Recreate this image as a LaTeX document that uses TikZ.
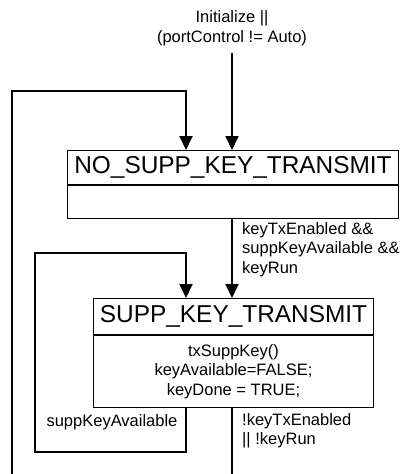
\documentclass[tikz,border=0pt]{standalone}
\usepackage{fontspec}
\setmainfont{Liberation Sans}
\usetikzlibrary{arrows.meta}
\usetikzlibrary{calc}

\begin{document}
\begin{tikzpicture}[line cap=butt,line join=miter,
  x=1pt,y=-1pt,                                  % pixel grid, y down
  statetitle/.style={draw,line width=1pt,inner sep=0pt,
    font=\fontsize{24.4}{28}\selectfont},
  statebody/.style={draw,line width=1pt,inner sep=0pt,align=center,
    font=\fontsize{16.5}{19.5}\selectfont},
  cond/.style={inner sep=2pt,font=\fontsize{16.5}{19.5}\selectfont},
  wire/.style={line width=2pt},
  arr/.style={wire,-{Triangle[width=13pt,length=14pt]}}
  ]
  \def\xm{232}  % main column
  \def\xl{186}  % loop column
  \useasboundingbox (0,0) rectangle (400,474);
  % STATES
  \node[statetitle,minimum width=331pt,minimum height=34pt,anchor=north west]
    (nskt) at (67,150) {NO\_SUPP\_KEY\_TRANSMIT};
  \node[statebody,minimum width=331pt,minimum height=33pt,anchor=north]
    (nsktBody) at (nskt.south) {};
  \node[statetitle,minimum width=280pt,minimum height=36pt,anchor=north west]
    (skt) at (93,298) {SUPP\_KEY\_TRANSMIT};
  \node[statebody,minimum width=280pt,minimum height=72pt,anchor=north]
    (sktBody) at (skt.south) {txSuppKey()\\keyAvailable=FALSE;\\keyDone = TRUE;};
  % conditions
  \node[cond,align=center] (init) at (\xm,28) {Initialize ||\\(portControl != Auto)};
  \node[cond,align=left,anchor=north west] (condRun) at (240,220)
    {keyTxEnabled \&\&\\suppKeyAvailable \&\&\\keyRun};
  \node[cond,align=left,anchor=north west] (condStop) at (240,411)
    {!keyTxEnabled\\|| !keyRun};
  \node[cond] (condLoop) at (112,422) {suppKeyAvailable};
  % corners of the loops
  \coordinate (outerEnd)  at (12,474);
  \coordinate (outerTop)  at (12,91);
  \coordinate (outerTurn) at (\xl,91);
  \coordinate (loopTopL)  at (35,253);
  \coordinate (loopTopR)  at (\xl,253);
  \coordinate (loopBotL)  at (35,452);
  \coordinate (loopBotR)  at (\xl,452);
  \coordinate (exitEnd)   at (\xm,474);
  % TRANSITIONS
  \draw[arr,shorten <=5pt] (init) -- (init |- nskt.north);
  \draw[arr] (outerEnd) -- (outerTop) -- (outerTurn) -- (outerTurn |- nskt.north);
  \draw[arr] (nsktBody.south -| init) -- (skt.north -| init);
  \draw[arr] (sktBody.south -| loopBotR) -- (loopBotR) -- (loopBotL)
    -- (loopTopL) -- (loopTopR) -- (loopTopR |- skt.north);
  \draw[wire] (sktBody.south -| init) -- (exitEnd);
\end{tikzpicture}
\end{document}
